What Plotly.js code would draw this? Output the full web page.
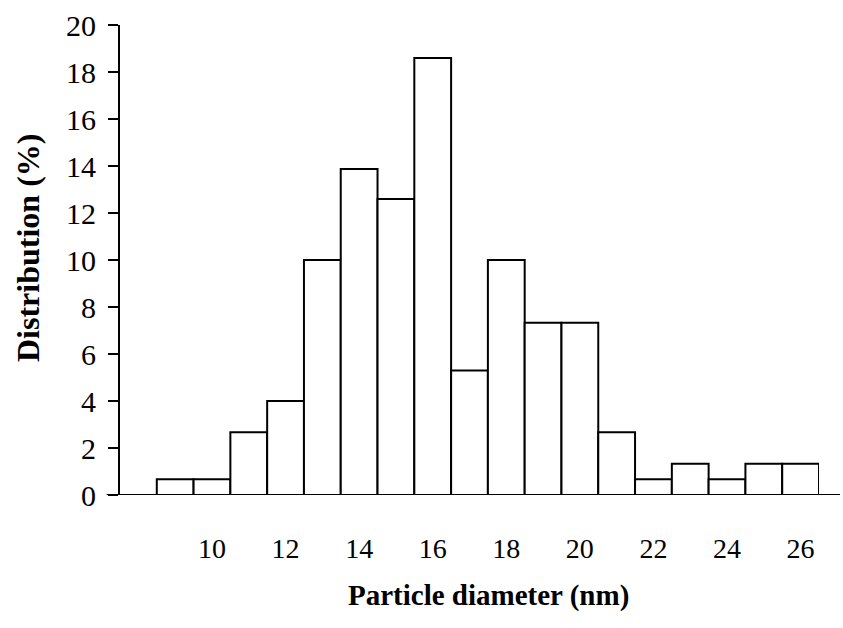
<!DOCTYPE html>
<html>
<head>
<meta charset="utf-8">
<script src="https://cdn.plot.ly/plotly-3.0.1.min.js"></script>
<style>html,body{margin:0;padding:0;background:#fff;}#chart{width:843px;height:628px;}</style>
</head>
<body>
<div id="chart"></div>
<script>
// Particle diameter bins (nm) and distribution (%)
const diameters = [9, 10, 11, 12, 13, 14, 15, 16, 17, 18, 19, 20, 21, 22, 23, 24, 25, 26];
const distribution = [0.67, 0.67, 2.67, 4.0, 10.0, 13.87, 12.6, 18.6, 5.3, 10.0, 7.33, 7.33, 2.67, 0.67, 1.33, 0.67, 1.33, 1.33];
const xTickVals = [10, 12, 14, 16, 18, 20, 22, 24, 26];
const yTickVals = [0, 2, 4, 6, 8, 10, 12, 14, 16, 18, 20];
const xTitle = 'Particle diameter (nm)';
const yTitle = 'Distribution (%)';

const serif = '"Liberation Serif", "Times New Roman", serif';

const trace = {
  type: 'bar',
  x: diameters,
  y: distribution,
  width: 1,
  marker: {color: '#ffffff', line: {color: '#000000', width: 2}},
  hoverinfo: 'x+y'
};

const layout = {
  width: 843,
  height: 628,
  margin: {l: 120, r: 24, t: 25, b: 133},
  paper_bgcolor: '#ffffff',
  plot_bgcolor: '#ffffff',
  showlegend: false,
  bargap: 0,
  font: {family: serif, color: '#000000'},
  xaxis: {
    range: [7.5, 26.5],
    tickvals: xTickVals,
    ticktext: xTickVals.map(String),
    ticks: '',
    showline: false,
    showgrid: false,
    zeroline: false,
    ticklabelstandoff: 34,
    tickfont: {family: serif, size: 28, color: '#000'}
  },
  yaxis: {
    range: [0, 20],
    tickvals: yTickVals,
    ticktext: yTickVals.map(String),
    ticks: 'outside',
    ticklen: 10,
    tickwidth: 2,
    tickcolor: '#000',
    showline: true,
    linecolor: '#000',
    linewidth: 2,
    showgrid: false,
    zeroline: false,
    ticklabelstandoff: 6,
    tickfont: {family: serif, size: 30, color: '#000'}
  },
  annotations: [
    {
      text: '<b>' + xTitle + '</b>', xref: 'paper', yref: 'paper',
      x: 0.527, y: -0.2, xanchor: 'center', yanchor: 'middle', yshift: -6,
      showarrow: false, font: {family: serif, size: 29, color: '#000'}
    },
    {
      text: '<b>' + yTitle + '</b>', xref: 'paper', yref: 'paper',
      x: 0, y: 0.5, xanchor: 'center', yanchor: 'middle', xshift: -92, yshift: 12,
      textangle: -90, showarrow: false, font: {family: serif, size: 32, color: '#000'}
    }
  ],
  shapes: [{
    type: 'line', xref: 'paper', yref: 'y',
    x0: -0.019, x1: 1.03, y0: 0, y1: 0,
    line: {color: '#000', width: 2}
  }]
};

Plotly.newPlot('chart', [trace], layout, {displayModeBar: false, staticPlot: true});
</script>
</body>
</html>
